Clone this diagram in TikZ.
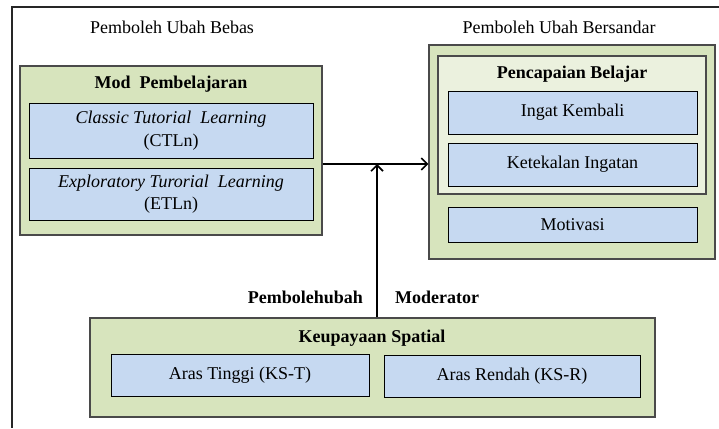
\documentclass[tikz,border=0pt]{standalone}
\usepackage{fontspec}
\setmainfont{Liberation Serif}
\usetikzlibrary{arrows.meta}
\definecolor{gfill}{HTML}{D7E4BD}
\definecolor{glight}{HTML}{EBF1DE}
\definecolor{bfill}{HTML}{C6D9F1}
\definecolor{gborder}{HTML}{4A4A4A}
\begin{document}
\begin{tikzpicture}[x=1pt,y=-1pt,
  every node/.style={font=\fontsize{18}{22.5}\selectfont, inner sep=0pt, align=center},
  outerbox/.style={draw=gborder, fill=gfill, line width=1.2pt},
  innerbox/.style={draw=gborder, fill=glight, line width=1.2pt},
  itembox/.style={draw=black, fill=bfill, line width=1pt},
  ttl/.style={font=\fontsize{18}{22.5}\selectfont\bfseries},
  arr/.style={line width=1.6pt, -{Straight Barb[length=6pt,width=12pt,line width=1.6pt]}}]
\useasboundingbox (0,0) rectangle (719,428);
% frame
\coordinate (ftl) at (12,7);
\coordinate (ftr) at (719,7);
\coordinate (fbl) at (12,428);
\draw[line width=1.6pt, draw=black!85] (ftr) -- (ftl) -- (fbl);
% headings
\node (hbebas) at (172,27) {Pemboleh Ubah Bebas};
\node (hbersandar) at (559,27) {Pemboleh Ubah Bersandar};
% left block
\node[outerbox, minimum width=302, minimum height=169] (mod) at (171,150.5) {};
\node[ttl] (modt) at (171,84) {Mod\ \ Pembelajaran};
\node[itembox, minimum width=284, minimum height=55] (ctl) at (171,130.5) {\textit{Classic Tutorial\ \ Learning}\\(CTLn)};
\node[itembox, minimum width=284, minimum height=52] (etl) at (171,194) {\textit{Exploratory Turorial\ \ Learning}\\(ETLn)};
% right block
\node[outerbox, minimum width=286, minimum height=214] (dep) at (572,152) {};
\node[innerbox, minimum width=268, minimum height=138] (pb) at (572,125) {};
\node[ttl] (pbt) at (572,74) {Pencapaian Belajar};
\node[itembox, minimum width=249, minimum height=43] (ik) at (572.5,112.5) {Ingat Kembali};
\node[itembox, minimum width=249, minimum height=43] (ki) at (572.5,164.5) {Ketekalan Ingatan};
\node[itembox, minimum width=249, minimum height=35] (mot) at (572.5,224.5) {Motivasi};
% bottom block
\node[outerbox, minimum width=565, minimum height=99] (ks) at (372.5,367.5) {};
\node[ttl] (kst) at (372,338) {Keupayaan Spatial};
\node[itembox, minimum width=258, minimum height=42] (kst1) at (240,375) {Aras Tinggi (KS-T)};
\node[itembox, minimum width=256, minimum height=42] (ksr) at (512,376) {Aras Rendah (KS-R)};
% labels
\node[ttl, anchor=east] (lp) at (363,297) {Pembolehubah};
\node[ttl, anchor=west] (lm) at (395,297) {Moderator};
% connectors
\coordinate (j) at (377,164);
\draw[arr] (mod.east |- j) -- (dep.west |- j);
\draw[arr] (ks.north -| j) -- (j);
\end{tikzpicture}
\end{document}
